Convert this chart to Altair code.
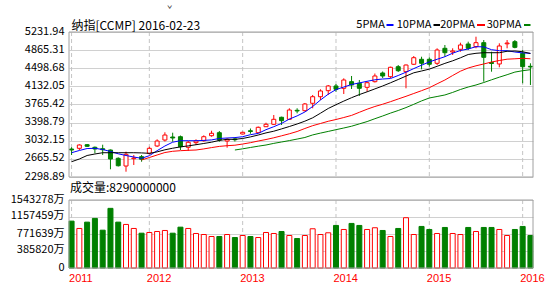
import altair as alt
import pandas as pd

# ---------------- data ----------------
months = [d.strftime("%Y-%m") for d in pd.date_range("2011-03-01", periods=60, freq="MS")]

open_ = [2865, 2879, 2952, 2900, 2871, 2845, 2677, 2521, 2669, 2710,
         2778, 2926, 3047, 3108, 3114, 2900, 2993, 3033, 3134, 3195,
         3027, 3068, 3169, 3235, 3195, 3316, 3365, 3507, 3466, 3648,
         3640, 3790, 3923, 4045, 4140, 4093, 4227, 4194, 4113, 4227,
         4403, 4328, 4530, 4429, 4579, 4680, 4680, 4599, 4902, 4827,
         4882, 4989, 4935, 5016, 4615, 4585, 4993, 5036, 4801, 4538]
high = [2900, 2960, 2966, 2916, 2952, 2855, 2697, 2811, 2744, 2744,
        2912, 3061, 3203, 3195, 3138, 3027, 3061, 3142, 3235, 3229,
        3082, 3098, 3215, 3280, 3320, 3397, 3553, 3519, 3689, 3689,
        3796, 3958, 4073, 4160, 4180, 4295, 4342, 4261, 4231, 4392,
        4433, 4530, 4564, 4575, 4746, 4732, 4720, 4902, 4969, 4902,
        5016, 5036, 5137, 5070, 4833, 5003, 5070, 5070, 4868, 4599]
low = [2744, 2845, 2906, 2778, 2744, 2455, 2511, 2406, 2542, 2608,
       2754, 2906, 3017, 3013, 2845, 2825, 2946, 3013, 3114, 3013,
       2892, 3017, 3159, 3175, 3189, 3310, 3351, 3351, 3452, 3587,
       3624, 3689, 3856, 3958, 4024, 3978, 4079, 3937, 4024, 4210,
       4301, 4301, 4423, 4093, 4564, 4477, 4530, 4564, 4732, 4767,
       4833, 4868, 4902, 4227, 4429, 4518, 4902, 4902, 4194, 4160]
close = [2845, 2946, 2920, 2865, 2851, 2663, 2527, 2758, 2683, 2657,
         2879, 3027, 3148, 3088, 2912, 3001, 3027, 3114, 3183, 3047,
         3061, 3053, 3203, 3219, 3304, 3365, 3466, 3438, 3654, 3634,
         3776, 3923, 4039, 4140, 4073, 4261, 4160, 4093, 4206, 4342,
         4342, 4518, 4449, 4564, 4712, 4599, 4579, 4868, 4813, 4848,
         4969, 4902, 5016, 4720, 4595, 4949, 5009, 4922, 4530, 4524]
volume = [1063900, 897200, 1041000, 1125500, 858400, 1353800, 1041000, 988500, 897200, 789900,
          805900, 828700, 851600, 789900, 926900, 897200, 783100, 760200, 714600, 714600,
          760200, 691700, 737400, 714600, 691700, 805900, 783100, 828700, 737400, 669000,
          737400, 890400, 760200, 799000, 965700, 874400, 1011400, 965700, 874400, 913200,
          851600, 714600, 897200, 1141500, 760200, 943000, 874400, 783100, 920000, 783100,
          760200, 920000, 828700, 920000, 920000, 874400, 737400, 874400, 943000, 737400]

ma5 = [2790, 2835, 2875, 2879, 2855, 2815, 2768, 2734, 2703, 2677,
       2730, 2831, 2926, 3003, 3033, 3033, 3033, 3039, 3049, 3078,
       3088, 3096, 3114, 3155, 3181, 3256, 3316, 3383, 3470, 3535,
       3614, 3725, 3856, 3974, 4067, 4119, 4170, 4202, 4235, 4265,
       4281, 4291, 4352, 4419, 4492, 4560, 4627, 4680, 4732, 4803,
       4858, 4888, 4935, 4931, 4874, 4854, 4854, 4827, 4809, 4801]
ma10 = [2608, 2663, 2734, 2764, 2790, 2790, 2790, 2790, 2790, 2786,
        2778, 2807, 2849, 2881, 2908, 2928, 2952, 2977, 3003, 3039,
        3061, 3061, 3078, 3110, 3148, 3191, 3225, 3272, 3320, 3371,
        3428, 3496, 3589, 3685, 3761, 3834, 3903, 3966, 4022, 4081,
        4140, 4204, 4271, 4340, 4407, 4443, 4481, 4538, 4597, 4649,
        4710, 4777, 4801, 4813, 4813, 4813, 4842, 4848, 4833, 4797]
ma20 = [None] * 9 + [2643, 2693, 2744, 2794, 2819, 2831, 2839, 2845, 2867, 2894,
                     2918, 2932, 2942, 2966, 2993, 3027, 3057, 3092, 3132, 3173,
                     3219, 3280, 3337, 3381, 3426, 3462, 3502, 3545, 3608, 3670,
                     3725, 3771, 3822, 3877, 3931, 3988, 4045, 4105, 4184, 4261,
                     4352, 4439, 4504, 4548, 4585, 4625, 4655, 4682, 4690, 4700,
                     4690]
ma30 = [None] * 21 + [2845, 2869, 2896, 2922, 2946, 2979, 3007, 3035, 3066, 3098,
                      3150, 3187, 3221, 3256, 3290, 3326, 3373, 3420, 3478, 3533,
                      3591, 3644, 3703, 3769, 3838, 3897, 3927, 3958, 4010, 4069,
                      4119, 4160, 4210, 4265, 4318, 4368, 4421, 4449, 4469]

price_ticks = [2298.89, 2665.52, 3032.15, 3398.79, 3765.42, 4132.05, 4498.68, 4865.31, 5231.94]
vol_ticks = [0, 385820, 771639, 1157459, 1543278]
year_months = ["2011-03", "2012-01", "2013-01", "2014-01", "2015-01", "2016-01"]
year_labels = ["2011", "2012", "2013", "2014", "2015", "2016"]

ma_names = ["5PMA", "10PMA", "20PMA", "30PMA"]
ma_colors = ["#0000ff", "#000000", "#ff0000", "#008000"]

title_text = "纳指[CCMP] 2016-02-23"
volume_text = "成交量:8290000000"

# ---------------- layout / style ----------------
W = 464
PRICE_H = 145
VOL_TOP, VOL_BOT = 168, 236
H = VOL_BOT
RED, GREEN = "#ff0000", "#008000"
GRID = "#d0d0d0"
BORDER = "#a0a0a0"
CJK = "Noto Sans CJK SC"

df = pd.DataFrame({"month": months, "open": open_, "high": high, "low": low,
                   "close": close, "vol": volume})

price_scale = alt.Scale(domain=[price_ticks[0], price_ticks[-1]], range=[PRICE_H, 0], nice=False, zero=False)
vol_scale = alt.Scale(domain=[vol_ticks[0], vol_ticks[-1]], range=[VOL_BOT, VOL_TOP], nice=False, zero=False)
x_scale = alt.Scale(type="point", domain=months, padding=0.33)
dir_stroke = alt.Scale(domain=["up", "down"], range=[RED, GREEN])
dir_fill = alt.Scale(domain=["up", "down"], range=["#ffffff", GREEN])

x_plain = alt.X("month:O", scale=x_scale, axis=None)
base = alt.Chart(df).transform_calculate(dir="datum.close >= datum.open ? 'up' : 'down'")

grid_df = pd.DataFrame({"month": year_months, "label": year_labels})
vgrid_price = alt.Chart(grid_df).mark_rule(color="#c4c4c4", strokeDash=[4, 3], strokeWidth=1).encode(
    x=x_plain,
    y=alt.Y(datum=price_ticks[-1], scale=price_scale, axis=None),
    y2=alt.datum(price_ticks[0]))
vgrid_vol = alt.Chart(grid_df).mark_rule(color="#c4c4c4", strokeDash=[4, 3], strokeWidth=1).encode(
    x=x_plain,
    y=alt.Y(datum=vol_ticks[-1], scale=vol_scale, axis=None),
    y2=alt.datum(vol_ticks[0]))

year_text = alt.Chart(grid_df).mark_text(
    align="left", baseline="top", dx=-2.5, fontSize=11, font="Liberation Sans", color=RED
).encode(x=x_plain, y=alt.value(H + 5), text="label:N")

wick = base.mark_rule(strokeWidth=1).encode(
    x=x_plain,
    y=alt.Y("low:Q", scale=price_scale,
            axis=alt.Axis(orient="left", values=price_ticks, format=".2f", title=None,
                          grid=True, gridColor=GRID, domain=False, ticks=False, tickSize=0,
                          labelPadding=5, labelOffset=-1)),
    y2="high:Q",
    stroke=alt.Stroke("dir:N", scale=dir_stroke, legend=None))

body = base.mark_bar(size=4, strokeWidth=1).encode(
    x=x_plain,
    y=alt.Y("open:Q", scale=price_scale, axis=None),
    y2="close:Q",
    fill=alt.Fill("dir:N", scale=dir_fill, legend=None),
    stroke=alt.Stroke("dir:N", scale=dir_stroke, legend=None))

ma_layers = []
for name, vals, col in zip(ma_names, [ma5, ma10, ma20, ma30], ma_colors):
    d = pd.DataFrame({"month": months, "v": vals}).dropna()
    ma_layers.append(alt.Chart(d).mark_line(color=col, strokeWidth=1).encode(
        x=x_plain, y=alt.Y("v:Q", scale=price_scale, axis=None)))

one = pd.DataFrame({"a": [0]})
price_border = alt.Chart(one).mark_rect(fill="transparent", stroke=BORDER, strokeWidth=1).encode(
    x=alt.value(0), x2=alt.value(W),
    y=alt.Y(datum=price_ticks[-1], scale=price_scale, axis=None),
    y2=alt.datum(price_ticks[0]))

vol_bars = base.mark_bar(size=5, strokeWidth=1).encode(
    x=x_plain,
    y=alt.Y("vol:Q", scale=vol_scale,
            axis=alt.Axis(orient="left", values=vol_ticks,
                          labelExpr="datum.value == 0 ? '0' : format(datum.value, 'd') + '万'",
                          title=None, grid=True, gridColor=GRID, domain=False, ticks=False,
                          tickSize=0, labelPadding=5, labelOffset=-1)),
    fill=alt.Fill("dir:N", scale=dir_fill, legend=None),
    stroke=alt.Stroke("dir:N", scale=dir_stroke, legend=None))

vol_border = alt.Chart(one).mark_rect(fill="transparent", stroke=BORDER, strokeWidth=1).encode(
    x=alt.value(0), x2=alt.value(W),
    y=alt.Y(datum=vol_ticks[-1], scale=vol_scale, axis=None),
    y2=alt.datum(vol_ticks[0]))


def text_layer(s, x, y, size, color="#000000", align="left", font=CJK):
    return alt.Chart(pd.DataFrame({"t": [s]})).mark_text(
        align=align, baseline="middle", fontSize=size, font=font, color=color
    ).encode(x=alt.value(x), y=alt.value(y), text="t:N")


texts = [
    text_layer(title_text, 2.5, -6, 12),
    text_layer(volume_text, 1, 156, 12),
    text_layer("ˇ", 98, -22, 9, color="#333333"),
]

# legend: label then short coloured stroke
legend_text_right = [316, 362.5, 406, 452.5]
legend_sw = [(317.5, 324.5), (364.5, 371), (408, 416), (455, 461.5)]
legend_layers = []
for name, col, xr, (s0, s1) in zip(ma_names, ma_colors, legend_text_right, legend_sw):
    legend_layers.append(text_layer(name, xr, -7, 11, align="right"))
    legend_layers.append(alt.Chart(one).mark_rule(color=col, strokeWidth=2).encode(
        x=alt.value(s0), x2=alt.value(s1), y=alt.value(-7)))

chart = alt.layer(
    vgrid_price, vgrid_vol, wick, body, *ma_layers, price_border,
    vol_bars, vol_border, year_text, *texts, *legend_layers
).resolve_scale(
    y="independent"
).properties(
    width=W, height=H,
    padding={"left": 69, "top": 32, "right": 21, "bottom": 28},
    autosize=alt.AutoSizeParams(type="none"),
    background="white",
).configure_view(
    stroke=None
).configure_axis(
    labelFont=CJK, labelFontSize=11, labelColor="#000000"
)

chart.save("out.html", embed_options={"renderer": "svg", "actions": False})
